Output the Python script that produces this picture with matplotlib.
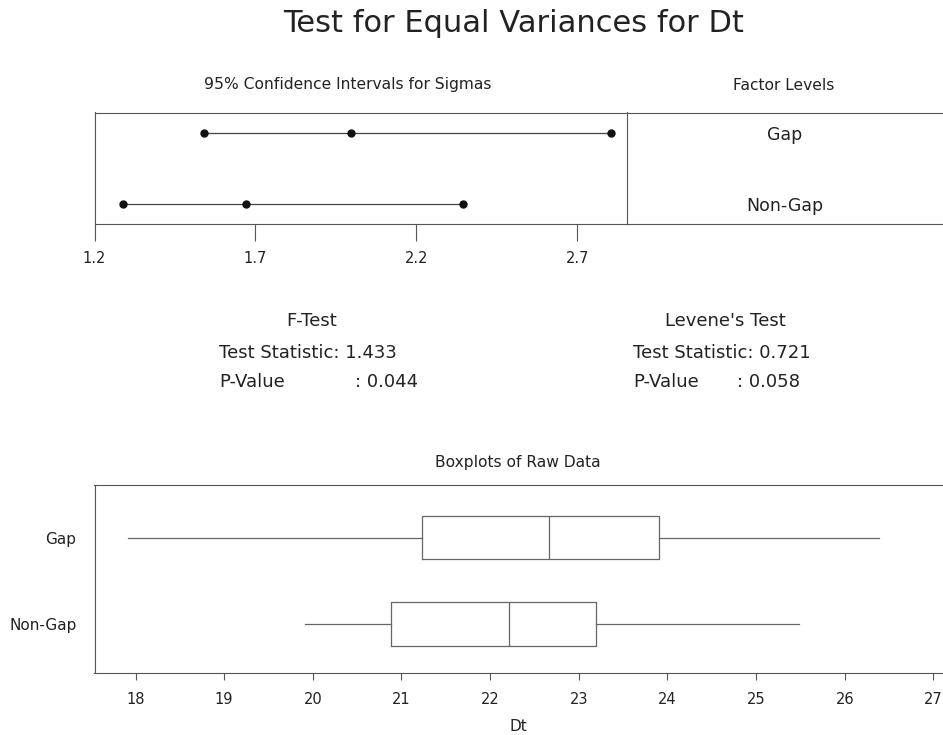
import matplotlib.pyplot as plt

# Factor levels
groups = ['Gap', 'Non-Gap']

# 95% confidence intervals for sigma (lower, estimate, upper)
sigma_lower = [1.540, 1.290]
sigma_est = [1.997, 1.671]
sigma_upper = [2.806, 2.346]

# Boxplot summaries of Dt per group
whis_lo = [17.91, 19.91]
q1 = [21.23, 20.88]
medians = [22.66, 22.21]
q3 = [23.91, 23.20]
whis_hi = [26.39, 25.49]

# Test results
f_stat, f_p = 1.433, 0.044
lev_stat, lev_p = 0.721, 0.058

ci_ticks = [1.2, 1.7, 2.2, 2.7]
box_ticks = list(range(18, 28))

W, H = 943, 735
line_col = '#555555'
text_col = '#222222'

plt.rcParams['font.family'] = 'DejaVu Sans'
fig = plt.figure(figsize=(W / 100, H / 100), dpi=100)


def fx(px):
    return px / W


def fy(py):
    return 1 - py / H


def axes_px(left, top, right, bottom):
    return fig.add_axes([fx(left), fy(bottom), fx(right - left), (bottom - top) / H])


fig.text(fx(514), fy(23), 'Test for Equal Variances for Dt', ha='center', va='center',
         fontsize=22, color=text_col)

# --- factor levels panel (drawn first so the divider stays on top) ---
ax_fl = axes_px(626.7, 112.5, 943, 223.5)
ax_fl.set_xlim(0, 1)
ax_fl.set_ylim(0.725, 2.289)
ypos = [2, 1]
for y, g in zip(ypos, groups):
    ax_fl.text(0.5, y - 0.03, g, ha='center', va='center', fontsize=12.5, color=text_col)
ax_fl.set_xticks([])
ax_fl.set_yticks([])
ax_fl.patch.set_alpha(0)
ax_fl.spines['left'].set_visible(False)
ax_fl.spines['right'].set_visible(False)
for sp in ax_fl.spines.values():
    sp.set_color(line_col)
    sp.set_linewidth(0.8)
fig.text(fx(784), fy(85), 'Factor Levels', ha='center', va='center',
         fontsize=11.2, color=text_col)

# --- confidence intervals panel ---
ax_ci = axes_px(94.5, 112.5, 626.7, 223.5)
for y, lo, est, hi in zip(ypos, sigma_lower, sigma_est, sigma_upper):
    ax_ci.plot([lo, hi], [y, y], color='#444444', lw=0.9)
    ax_ci.plot([lo, est, hi], [y, y, y], 'o', color='#111111', ms=5)
ax_ci.set_xlim(1.2, 2.854)
ax_ci.set_ylim(0.725, 2.289)
ax_ci.set_xticks(ci_ticks)
ax_ci.set_xticklabels([f'{t:.1f}' for t in ci_ticks])
ax_ci.set_yticks([])
ax_ci.patch.set_alpha(0)
ax_ci.tick_params(axis='x', direction='out', length=12, width=0.8, color=line_col,
                  labelsize=10.5, labelcolor=text_col, pad=8)
for sp in ax_ci.spines.values():
    sp.set_color(line_col)
    sp.set_linewidth(0.8)
fig.text(fx(348), fy(85), '95% Confidence Intervals for Sigmas', ha='center', va='center',
         fontsize=11.2, color=text_col)

# --- test statistics ---
blocks = [(219.3, 355, 'F-Test', f_stat, f_p), (633.3, 736.7, "Levene's Test", lev_stat, lev_p)]
for left, colon_x, name, stat, p in blocks:
    fig.text(fx(left + 92.5), fy(321), name, ha='center', va='center', fontsize=13, color=text_col)
    fig.text(fx(left), fy(352.5), f'Test Statistic: {stat:.3f}', ha='left', va='center',
             fontsize=13, color=text_col)
    fig.text(fx(left), fy(382), 'P-Value', ha='left', va='center', fontsize=13, color=text_col)
    fig.text(fx(colon_x), fy(382), f': {p:.3f}', ha='left', va='center', fontsize=13, color=text_col)

# --- boxplots of raw data ---
ax_bx = axes_px(94.5, 485, 943, 673)
stats = []
for g, lo, a, m, b, hi in zip(groups, whis_lo, q1, medians, q3, whis_hi):
    stats.append({'label': g, 'whislo': lo, 'q1': a, 'med': m, 'q3': b, 'whishi': hi, 'fliers': []})
box_style = dict(color='#666666', linewidth=0.9)
ax_bx.bxp(stats, positions=ypos, widths=0.5, vert=False, showcaps=False,
          boxprops=box_style, whiskerprops=box_style, medianprops=box_style)
ax_bx.set_xlim(17.537, 27.109)
ax_bx.set_ylim(0.434, 2.607)
ax_bx.set_xticks(box_ticks)
ax_bx.set_xticklabels([str(t) for t in box_ticks])
ax_bx.set_yticks(ypos)
ax_bx.set_yticklabels(groups)
ax_bx.tick_params(axis='x', direction='out', length=5, width=0.8, color=line_col,
                  labelsize=10.5, labelcolor=text_col, pad=9)
ax_bx.tick_params(axis='y', length=0, labelsize=11, labelcolor=text_col, pad=13)
ax_bx.spines['right'].set_visible(False)
for sp in ax_bx.spines.values():
    sp.set_color(line_col)
    sp.set_linewidth(0.8)
ax_bx.set_xlabel('Dt', fontsize=11, color=text_col, labelpad=8)
fig.text(fx(518), fy(462), 'Boxplots of Raw Data', ha='center', va='center',
         fontsize=11.2, color=text_col)

fig.savefig('out.png', dpi=100)
